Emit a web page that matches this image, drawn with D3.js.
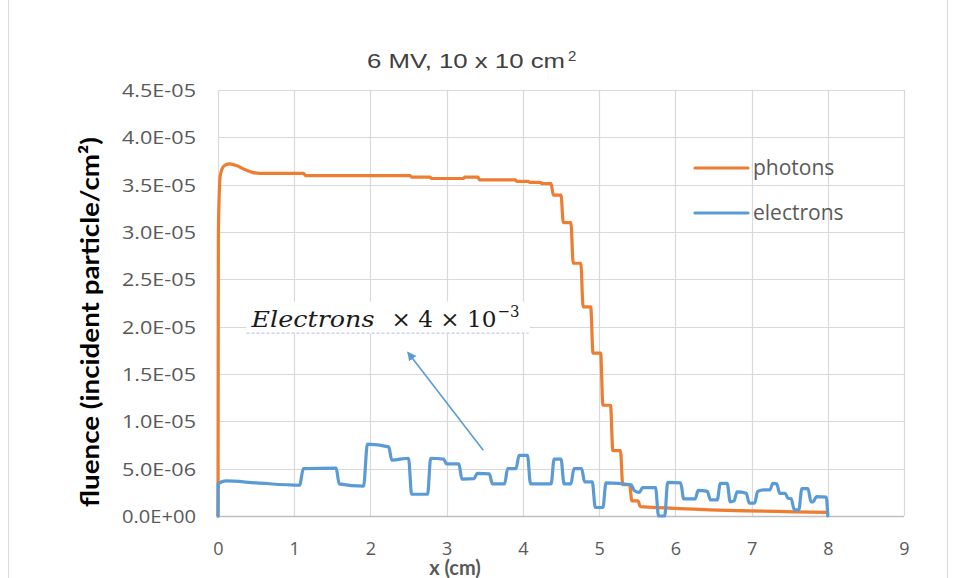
<!DOCTYPE html>
<html><head><meta charset="utf-8">
<script src="https://cdn.jsdelivr.net/npm/d3@7"></script>
<style>body{margin:0;background:#fff}svg{display:block}</style>
</head><body>
<svg id="c" width="956" height="578"></svg>
<script>
// ---- data ----
const photonX = [0, 0.005, 0.03, 0.08, 0.15, 0.25, 0.35, 0.45, 0.55, 1.12, 1.15, 2.52, 2.54, 2.78, 2.80, 3.22, 3.24, 3.41, 3.43, 3.90, 3.92, 4.07, 4.09, 4.23, 4.25, 4.37, 4.40, 4.50, 4.53, 4.63, 4.66, 4.76, 4.79, 4.89, 4.92, 5.02, 5.05, 5.15, 5.18, 5.28, 5.31, 5.40, 5.43, 5.51, 5.54, 8.0];
const photonY = [0, 3.0e-5, 3.6e-5, 3.70e-5, 3.72e-5, 3.70e-5, 3.66e-5, 3.63e-5, 3.62e-5, 3.62e-5, 3.595e-5, 3.595e-5, 3.58e-5, 3.58e-5, 3.565e-5, 3.565e-5, 3.58e-5, 3.58e-5, 3.55e-5, 3.55e-5, 3.535e-5, 3.535e-5, 3.525e-5, 3.525e-5, 3.51e-5, 3.51e-5, 3.39e-5, 3.39e-5, 3.10e-5, 3.10e-5, 2.67e-5, 2.67e-5, 2.21e-5, 2.21e-5, 1.72e-5, 1.72e-5, 1.17e-5, 1.17e-5, 6.9e-6, 6.9e-6, 3.3e-6, 3.3e-6, 1.6e-6, 1.6e-6, 1.0e-6, 0.38e-6];

const electronX = [0, 0.003, 0.1, 0.5, 1.07, 1.12, 1.55, 1.59, 1.91, 1.96, 2.24, 2.28, 2.50, 2.54, 2.75, 2.79, 2.96, 3.00, 3.16, 3.20, 3.36, 3.40, 3.56, 3.60, 3.76, 3.80, 3.91, 3.95, 4.06, 4.10, 4.37, 4.41, 4.50, 4.54, 4.63, 4.67, 4.77, 4.81, 4.91, 4.95, 5.05, 5.09, 5.42, 5.46, 5.53, 5.57, 5.74, 5.78, 5.86, 5.90, 6.07, 6.11, 6.26, 6.30, 6.42, 6.46, 6.55, 6.59, 6.68, 6.72, 6.77, 6.81, 6.93, 6.97, 7.04, 7.08, 7.16, 7.24, 7.28, 7.33, 7.37, 7.44, 7.48, 7.52, 7.56, 7.62, 7.66, 7.74, 7.78, 7.81, 7.85, 7.98, 8.0];
const electronY = [0, 3.4e-6, 3.7e-6, 3.5e-6, 3.25e-6, 5.0e-6, 5.05e-6, 3.4e-6, 3.15e-6, 7.6e-6, 7.3e-6, 5.9e-6, 6.1e-6, 2.3e-6, 2.3e-6, 6.1e-6, 6.0e-6, 5.5e-6, 5.5e-6, 3.9e-6, 3.95e-6, 4.5e-6, 4.45e-6, 3.4e-6, 3.4e-6, 5.0e-6, 5.0e-6, 6.4e-6, 6.4e-6, 3.4e-6, 3.4e-6, 6.0e-6, 6.0e-6, 3.4e-6, 3.4e-6, 5.0e-6, 5.0e-6, 3.6e-6, 3.6e-6, 0.9e-6, 0.9e-6, 3.5e-6, 3.3e-6, 2.7e-6, 2.5e-6, 3.0e-6, 3.0e-6, 0, 0, 3.55e-6, 3.5e-6, 1.8e-6, 1.8e-6, 2.7e-6, 2.6e-6, 1.7e-6, 1.7e-6, 3.45e-6, 3.45e-6, 1.5e-6, 1.6e-6, 2.55e-6, 2.4e-6, 1.35e-6, 1.35e-6, 2.6e-6, 2.75e-6, 2.75e-6, 3.45e-6, 3.4e-6, 2.4e-6, 2.4e-6, 1.85e-6, 1.85e-6, 0.65e-6, 0.65e-6, 2.9e-6, 2.9e-6, 1.5e-6, 1.5e-6, 2.05e-6, 2.0e-6, 0];

const xTickValues = [0, 1, 2, 3, 4, 5, 6, 7, 8, 9];
const yTickValues = [0, 5e-6, 1e-5, 1.5e-5, 2e-5, 2.5e-5, 3e-5, 3.5e-5, 4e-5, 4.5e-5];
const yTickLabels = ["0.0E+00", "5.0E-06", "1.0E-05", "1.5E-05", "2.0E-05", "2.5E-05", "3.0E-05", "3.5E-05", "4.0E-05", "4.5E-05"];
const seriesNames = ["photons", "electrons"];
const seriesColors = ["#ED7D31", "#5B9BD5"];
const chartTitle = "6 MV, 10 x 10 cm";
const chartTitleSup = "2";
const xTitle = "x (cm)";
const yTitle = "fluence (incident particle/cm\u00B2)";
const annoMain = "Electrons";
const annoRest = "\u00D7 4 \u00D7 10";
const annoSup = "\u22123";
const annoAt = [0.44, 2.0e-5];        // text start (cm, fluence)
const arrowFrom = [3.48, 6.95e-6];
const arrowTo = [2.49, 1.73e-5];

// ---- drawing ----
const svg = d3.select("#c");
const x = d3.scaleLinear().domain([0, 9]).range([218, 904]);
const y = d3.scaleLinear().domain([0, 4.5e-5]).range([516, 90]);

// outer chart border
svg.append("line").attr("x1", 8.5).attr("x2", 8.5).attr("y1", 0).attr("y2", 578).attr("stroke", "#d9d9d9");
svg.append("line").attr("x1", 947.5).attr("x2", 947.5).attr("y1", 0).attr("y2", 578).attr("stroke", "#d9d9d9");

// grid
const grid = svg.append("g");
grid.selectAll("line.h").data(yTickValues.slice(1)).enter().append("line")
  .attr("x1", x(0)).attr("x2", x(9))
  .attr("y1", d => Math.round(y(d)) + 0.5).attr("y2", d => Math.round(y(d)) + 0.5)
  .attr("stroke", "#d9d9d9").attr("stroke-width", 1.2);
grid.selectAll("line.v").data(xTickValues).enter().append("line")
  .attr("y1", y(4.5e-5)).attr("y2", y(0))
  .attr("x1", d => Math.round(x(d)) + 0.5).attr("x2", d => Math.round(x(d)) + 0.5)
  .attr("stroke", "#d9d9d9").attr("stroke-width", 1.2);
svg.append("line").attr("x1", x(0)).attr("x2", x(9)).attr("y1", Math.round(y(0)) + 0.5).attr("y2", Math.round(y(0)) + 0.5)
  .attr("stroke", "#bfbfbf").attr("stroke-width", 1.5);

// axes labels
const xAxis = d3.axisBottom(x).tickValues(xTickValues).tickSize(0).tickPadding(0).tickFormat(d3.format("d"));
const gx = svg.append("g").attr("transform", `translate(0,${y(0)})`).call(xAxis);
gx.select(".domain").remove();
gx.selectAll("text").attr("dy", null).attr("y", 39)
  .attr("font-family", "'Open Sans', sans-serif").attr("font-size", 18).attr("fill", "#595959");

const yAxis = d3.axisLeft(y).tickValues(yTickValues).tickSize(0).tickPadding(0)
  .tickFormat((d, i) => yTickLabels[i]);
const gy = svg.append("g").attr("transform", `translate(196,0)`).call(yAxis);
gy.select(".domain").remove();
gy.selectAll("text").attr("x", 0).attr("dy", "0.36em")
  .attr("font-family", "'Open Sans', sans-serif").attr("font-size", 18).attr("fill", "#595959")
  .attr("textLength", 74).attr("lengthAdjust", "spacingAndGlyphs");

// title
const t = svg.append("text").attr("x", 367).attr("y", 68)
  .attr("font-family", "'Liberation Sans', Arial, sans-serif").attr("font-size", 20).attr("fill", "#404040");
t.append("tspan").text(chartTitle).attr("textLength", 198).attr("lengthAdjust", "spacingAndGlyphs");
t.append("tspan").text(chartTitleSup).attr("font-size", 15).attr("dy", -7).attr("dx", 3);

// axis titles
svg.append("text").attr("transform", "translate(99,322) rotate(-90)").attr("text-anchor", "middle")
  .attr("font-family", "Lato, 'Open Sans', sans-serif").attr("font-weight", "bold").attr("font-size", 24)
  .attr("fill", "#000").attr("textLength", 370).attr("lengthAdjust", "spacingAndGlyphs").text(yTitle);
svg.append("text").attr("x", 455).attr("y", 575).attr("text-anchor", "middle")
  .attr("font-family", "Lato, 'Open Sans', sans-serif").attr("font-weight", "bold").attr("font-size", 20)
  .attr("fill", "#595959").text(xTitle);

// annotation box (under series)
const ax = x(annoAt[0]), ay = y(annoAt[1]);
svg.append("rect").attr("x", ax - 5).attr("y", ay - 25).attr("width", 283).attr("height", 32).attr("fill", "#fff");
svg.append("line").attr("x1", ax - 5).attr("x2", ax + 277).attr("y1", ay + 6.5).attr("y2", ay + 6.5)
  .attr("stroke", "#b8b8f0").attr("stroke-dasharray", "3,2").attr("stroke-width", 1);
const at = svg.append("text").attr("y", ay).attr("font-family", "'DejaVu Serif', 'Liberation Serif', serif")
  .attr("font-size", 23).attr("fill", "#1a1a1a");
at.append("tspan").attr("x", ax).attr("font-style", "italic").attr("textLength", 123)
  .attr("lengthAdjust", "spacingAndGlyphs").text(annoMain);
at.append("tspan").attr("x", ax + 140).attr("textLength", 105).attr("lengthAdjust", "spacingAndGlyphs").text(annoRest);
at.append("tspan").attr("x", ax + 246).attr("dy", -10).attr("font-size", 17).attr("textLength", 22)
  .attr("lengthAdjust", "spacingAndGlyphs").text(annoSup);

// series
const line = d3.line().x(d => x(d[0])).y(d => y(d[1])).curve(d3.curveMonotoneX);
const photons = photonX.map((v, i) => [v, photonY[i]]);
const electrons = electronX.map((v, i) => [v, electronY[i]]);
[photons, electrons].forEach((s, i) => {
  svg.append("path").datum(s).attr("d", line).attr("fill", "none")
    .attr("stroke", seriesColors[i]).attr("stroke-width", 3.2)
    .attr("stroke-linejoin", "round").attr("stroke-linecap", "round");
});

// legend
const lg = svg.append("g");
seriesNames.forEach((n, i) => {
  const ly = 168 + i * 45;
  lg.append("line").attr("x1", 695).attr("x2", 748).attr("y1", ly).attr("y2", ly)
    .attr("stroke", seriesColors[i]).attr("stroke-width", 3.2).attr("stroke-linecap", "round");
  lg.append("text").attr("x", 753).attr("y", ly + 7).attr("font-family", "'Open Sans', sans-serif")
    .attr("font-size", 21).attr("fill", "#595959").text(n);
});

// arrow
svg.append("defs").append("marker").attr("id", "ah").attr("viewBox", "0 0 10 10").attr("refX", 9).attr("refY", 5)
  .attr("markerWidth", 9).attr("markerHeight", 9).attr("markerUnits", "userSpaceOnUse").attr("orient", "auto")
  .append("path").attr("d", "M0,0 L10,5 L0,10 z").attr("fill", seriesColors[1]);
svg.append("line").attr("x1", x(arrowFrom[0])).attr("y1", y(arrowFrom[1]))
  .attr("x2", x(arrowTo[0])).attr("y2", y(arrowTo[1]))
  .attr("stroke", seriesColors[1]).attr("stroke-width", 1.6).attr("marker-end", "url(#ah)");
</script>
</body></html>
